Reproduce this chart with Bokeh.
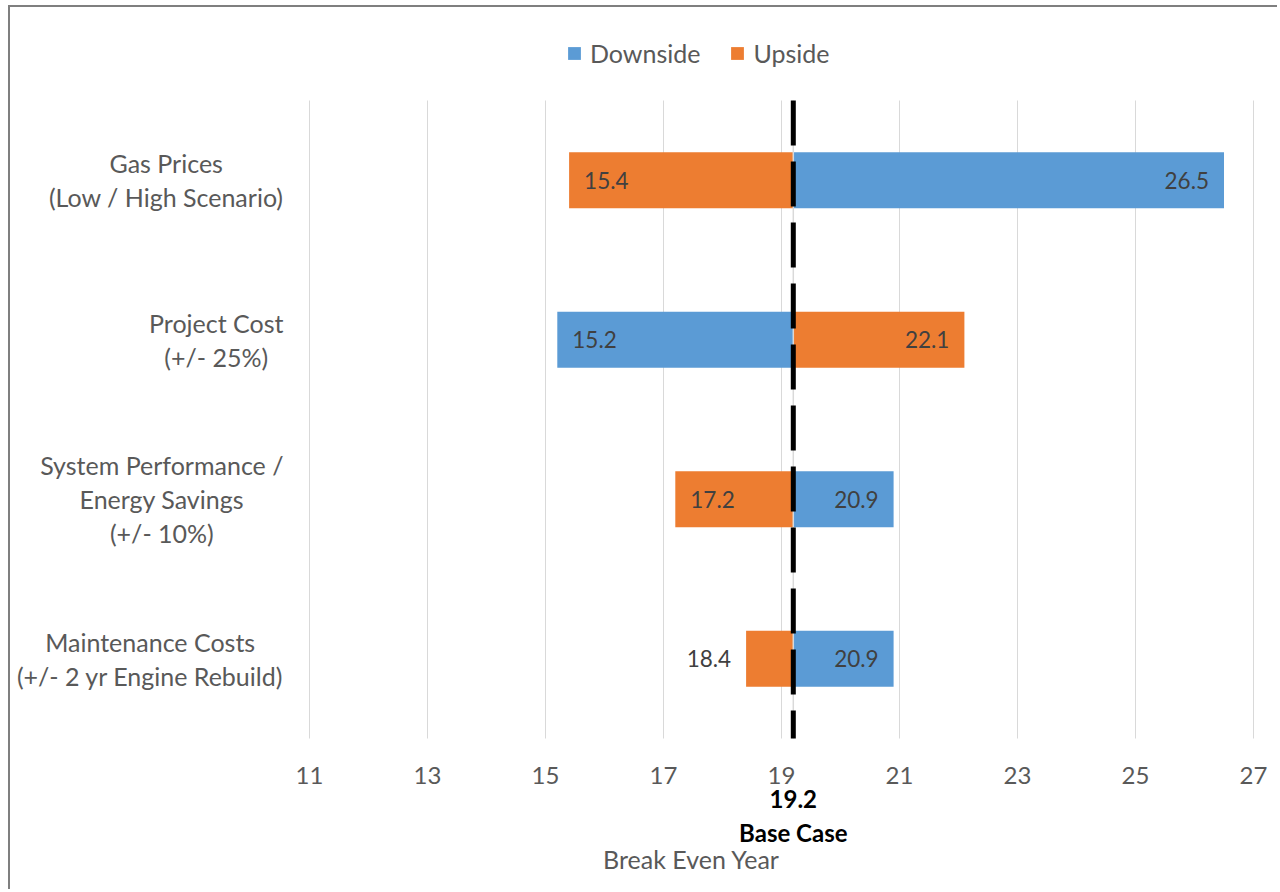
from bokeh.plotting import figure
from bokeh.models import Range1d, Label, Legend, LegendItem, ColumnDataSource
from bokeh.core.properties import value
from bokeh.embed import file_html
from bokeh.resources import INLINE

# ---- data -------------------------------------------------------------
categories = [
    "Gas Prices\n(Low / High Scenario)",
    "Project Cost\n(+/- 25%)",
    "System Performance /\nEnergy Savings\n(+/- 10%)",
    "Maintenance Costs\n(+/- 2 yr Engine Rebuild)",
]
downside = [26.5, 15.2, 20.9, 20.9]
upside = [15.4, 22.1, 17.2, 18.4]
base_case = 19.2
x_ticks = [11, 13, 15, 17, 19, 21, 23, 25, 27]
series_names = ["Downside", "Upside"]
base_label = "Base Case"
x_title = "Break Even Year"

# ---- styling ----------------------------------------------------------
FONT = "Lato"
BLUE = "#5B9BD5"
ORANGE = "#ED7D31"
TEXT_GREY = "#595959"
DATA_TEXT = "#404040"
GRID = "#D9D9D9"

W, H = 1269, 884
# the value axis runs from 11 to 27 between these canvas pixels
AX_L, AX_R, AX_T, AX_B = 299, 1243, 93, 731
X0, X1 = 11, 27
n = len(categories)
PX_X = (AX_R - AX_L) / (X1 - X0)
PX_Y = (AX_B - AX_T) / n


def px_to_x(px):
    return X0 + (px - AX_L) / PX_X


def px_to_y(py):
    return (py - AX_T) / PX_Y


# the whole canvas is the drawing frame; the rows run downward
p = figure(width=W, height=H,
           x_range=Range1d(px_to_x(0), px_to_x(W)),
           y_range=Range1d(px_to_y(H), px_to_y(0)),
           output_backend="svg", toolbar_location=None,
           x_axis_location=None, y_axis_location=None,
           min_border=0, outline_line_color=None, margin=(5, 0, 0, 8))
p.styles = {"border-left": "2px solid #7F7F7F", "border-top": "2px solid #7F7F7F"}
p.grid.visible = False

rows = [i + 0.5 for i in range(n)]
BAR_H = 0.35

# vertical gridlines at the value ticks
p.segment(x0=x_ticks, x1=x_ticks, y0=[0] * len(x_ticks), y1=[n] * len(x_ticks),
          line_color=GRID, line_width=1)


def bar_source(vals):
    return ColumnDataSource(dict(
        y=rows,
        left=[min(v, base_case) for v in vals],
        right=[max(v, base_case) for v in vals],
    ))


r_down = p.hbar(y="y", left="left", right="right", height=BAR_H,
                source=bar_source(downside), fill_color=BLUE, line_color=None)
r_up = p.hbar(y="y", left="left", right="right", height=BAR_H,
              source=bar_source(upside), fill_color=ORANGE, line_color=None)

# value labels: inside the bar end when it is wide enough, otherwise outside
lx, ly, lt, la, lo = [], [], [], [], []
for vals in (downside, upside):
    for y, v in zip(rows, vals):
        wide = abs(v - base_case) >= 1.0
        left_side = v < base_case
        lx.append(v)
        ly.append(y)
        lt.append(f"{v:.1f}")
        if left_side:
            la.append("left" if wide else "right")
            lo.append(15 if wide else -15)
        else:
            la.append("right" if wide else "left")
            lo.append(-15 if wide else 15)

p.text(x="x", y="y", text="t", text_align="a", x_offset="o",
       source=ColumnDataSource(dict(x=lx, y=ly, t=lt, a=la, o=lo)),
       text_baseline="middle", text_font=value(FONT), text_font_size="22.5px",
       text_color=DATA_TEXT)

# vertical axis line at the base case and the dashed base-case marker
p.segment(x0=[base_case], x1=[base_case], y0=[0], y1=[n],
          line_color=GRID, line_width=1.5)
p.segment(x0=[base_case], x1=[base_case], y0=[0], y1=[n],
          line_color="black", line_width=5, line_dash="45 16")

# value-axis tick labels
p.text(x=x_ticks, y=[px_to_y(768)] * len(x_ticks), text=[str(t) for t in x_ticks],
       text_align="center", text_baseline="middle", text_font=value(FONT),
       text_font_size="24px", text_color=TEXT_GREY)

# category labels to the left of the value axis
for y, cat in zip(rows, categories):
    p.add_layout(Label(x=px_to_x(273), y=y, text=cat, anchor="center_right",
                       text_align="center", text_font=FONT,
                       text_font_size="25px", text_color=TEXT_GREY,
                       text_line_height=1.13))

# base-case annotation under the axis
p.add_layout(Label(x=base_case, y=px_to_y(791), text=f"{base_case:.1f}",
                   text_align="center", text_baseline="middle", text_font=FONT,
                   text_font_size="24px", text_font_style="bold",
                   text_color="black"))
p.add_layout(Label(x=base_case, y=px_to_y(825), text=base_label,
                   text_align="center", text_baseline="middle", text_font=FONT,
                   text_font_size="24px", text_font_style="bold",
                   text_color="black"))
p.add_layout(Label(x=px_to_x(681), y=px_to_y(851), text=x_title,
                   text_align="center", text_baseline="middle", text_font=FONT,
                   text_font_size="25px", text_color=TEXT_GREY))

legend = Legend(items=[LegendItem(label=series_names[0], renderers=[r_down]),
                       LegendItem(label=series_names[1], renderers=[r_up])],
                location=(556, 823), orientation="horizontal",
                border_line_color=None, background_fill_alpha=0,
                label_text_font=FONT, label_text_font_size="25px",
                label_text_color=TEXT_GREY, glyph_width=16, glyph_height=16,
                label_standoff=8, spacing=29, padding=0, margin=0)
p.add_layout(legend)

open("out.html", "w").write(file_html(p, INLINE))
